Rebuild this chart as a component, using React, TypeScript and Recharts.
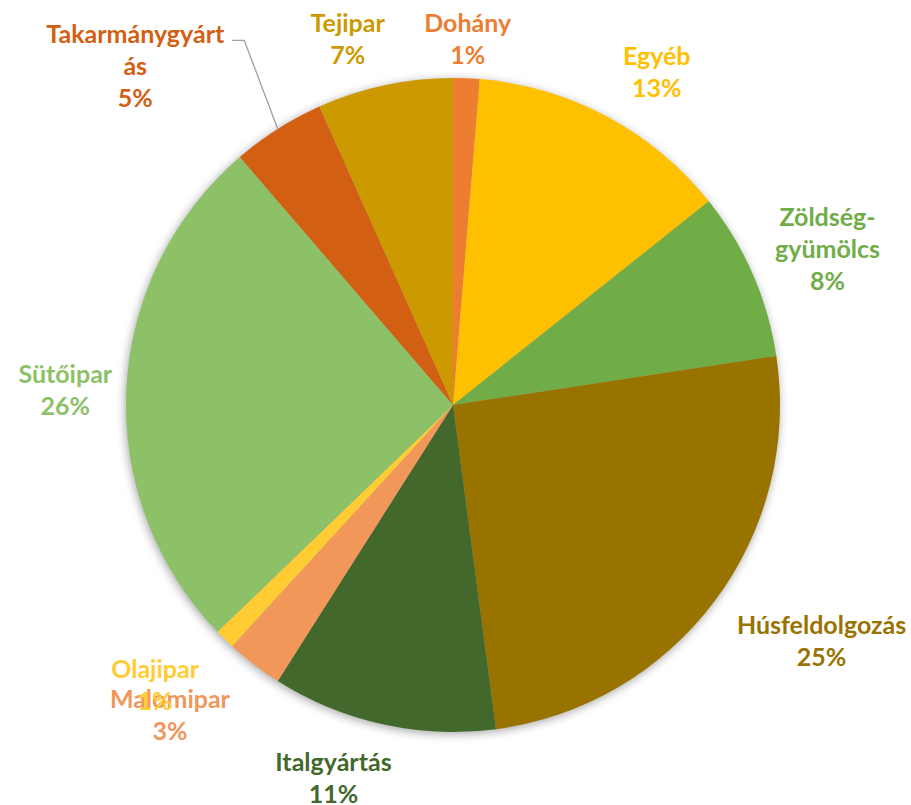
import { PieChart, Pie, Cell } from 'recharts'

const categories = [
  'Dohány',
  'Egyéb',
  'Zöldség-\ngyümölcs',
  'Húsfeldolgozás',
  'Italgyártás',
  'Malomipar',
  'Olajipar',
  'Sütőipar',
  'Takarmánygyárt\nás',
  'Tejipar',
]
const shares = [1.3, 13.0, 8.3, 25.3, 11.1, 2.8, 1.0, 25.9, 4.6, 6.7]
const colors = [
  '#ED7D31',
  '#FFC000',
  '#70AD47',
  '#997300',
  '#43682B',
  '#F1975A',
  '#FFCD33',
  '#8CC168',
  '#D35F13',
  '#CC9A00',
]

const data = categories.map((name, i) => ({ name, value: shares[i] }))
const total = [{ name: 'all', value: shares.reduce((a, b) => a + b, 0) }]

// label placement: [radius from centre, angle clockwise from 12 o'clock]
const labelPlace: Record<string, [number, number]> = {
  'Dohány': [367, 2.3],
  'Egyéb': [391, 31.4],
  'Zöldség-\ngyümölcs': [406, 67.3],
  'Húsfeldolgozás': [437, 122.5],
  'Italgyártás': [391, 197.8],
  'Malomipar': [419, 222.5],
  'Olajipar': [408, 226.9],
  'Sütőipar': [388, 272.4],
  'Takarmánygyárt\nás': [465, 316.9],
  'Tejipar': [382, 344],
}

const FONT = 'Lato, "Open Sans", sans-serif'
const LINE_H = 32

// eslint-disable-next-line @typescript-eslint/no-explicit-any
function renderLabel(props: any) {
  const { cx, cy, outerRadius, midAngle, percent, index } = props
  const name = categories[index]
  const [r, a] = labelPlace[name]
  const rad = (a * Math.PI) / 180
  const x = cx + r * Math.sin(rad)
  const y = cy - r * Math.cos(rad)
  const lines = [...name.split('\n'), `${Math.round(percent * 100)}%`]
  const top = y - ((lines.length - 1) * LINE_H) / 2
  let leader = null
  if (index === 8) {
    const m = (-midAngle * Math.PI) / 180
    const ex = cx + outerRadius * Math.cos(m)
    const ey = cy + outerRadius * Math.sin(m)
    const sx = x + 97
    const sy = top + 7
    leader = (
      <polyline
        points={`${sx},${sy} ${sx + 12},${sy} ${ex},${ey}`}
        fill="none"
        stroke="#a0a0a0"
        strokeWidth={1.3}
      />
    )
  }
  return (
    <g key={`lbl-${index}`}>
      {leader}
      {lines.map((t, i) => (
        <text
          key={i}
          x={x}
          y={top + i * LINE_H}
          textAnchor="middle"
          dominantBaseline="central"
          fill={colors[index]}
          fontFamily={FONT}
          fontWeight={700}
          fontSize={25}
        >
          {t}
        </text>
      ))}
    </g>
  )
}

export default function App() {
  return (
    <div style={{ position: 'absolute', left: 0, top: 0, width: 911, height: 805, background: '#fff' }}>
      <svg width={0} height={0} style={{ position: 'absolute' }}>
        <defs>
          <filter id="pieShadow" x="-20%" y="-20%" width="140%" height="140%">
            <feGaussianBlur in="SourceAlpha" stdDeviation={5} />
            <feOffset dx={-1} dy={2} result="blur" />
            <feFlood floodColor="#000" floodOpacity={0.35} />
            <feComposite in2="blur" operator="in" />
          </filter>
        </defs>
      </svg>
      <PieChart width={911} height={805} margin={{ top: 0, right: 0, bottom: 0, left: 0 }}>
        <Pie
          data={total}
          dataKey="value"
          cx={453}
          cy={405}
          outerRadius={327}
          startAngle={90}
          endAngle={-270}
          stroke="none"
          isAnimationActive={false}
          label={false}
          labelLine={false}
        >
          <Cell fill="#000" filter="url(#pieShadow)" />
        </Pie>
        <Pie
          data={data}
          dataKey="value"
          nameKey="name"
          cx={453}
          cy={405}
          outerRadius={327}
          startAngle={90}
          endAngle={-270}
          stroke="none"
          isAnimationActive={false}
          label={renderLabel}
          labelLine={false}
        >
          {data.map((d, i) => (
            <Cell key={d.name} fill={colors[i]} />
          ))}
        </Pie>
      </PieChart>
    </div>
  )
}
